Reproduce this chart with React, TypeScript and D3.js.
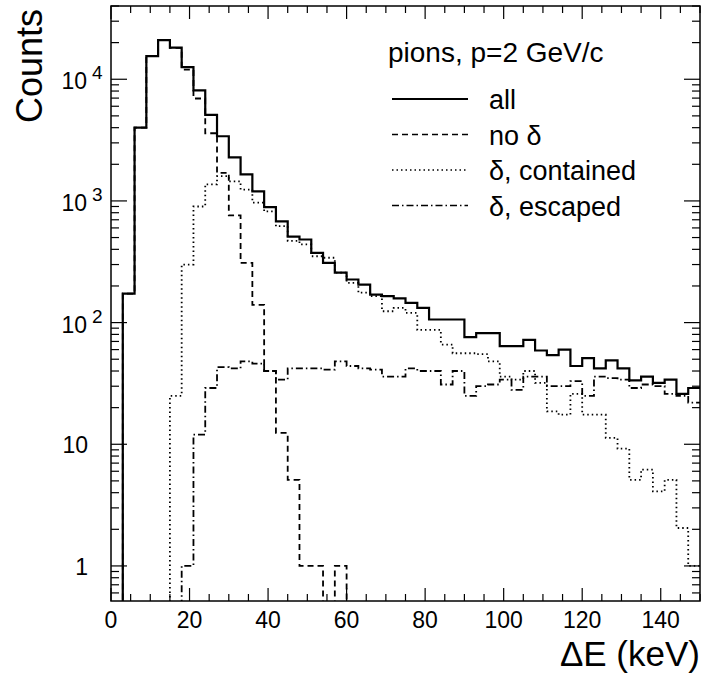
import React from 'react';
import * as d3 from 'd3';

// 3 keV bins from 0 to 150 keV
const binWidth = 3;
const allCounts = [0, 173, 4000, 15500, 21000, 18200, 12600, 8100, 5100, 3400, 2280, 1650, 1200, 890, 680,
  508, 482, 374, 310, 257, 226, 205, 170, 165, 158, 145, 132, 106, 106, 106, 76, 82, 82, 64, 64, 72, 59, 54, 60,
  44, 51, 42, 49, 42, 33.5, 36, 32, 34, 26, 29];
const noDeltaCounts = [0, 173, 4000, 15500, 21000, 18100, 12000, 6950, 3600, 1700, 760, 310, 140, 40, 12.4,
  5.1, 1, 1, 0, 1, 0, 0, 0, 0, 0, 0, 0, 0, 0, 0, 0, 0, 0, 0, 0, 0, 0, 0, 0, 0, 0, 0, 0, 0, 0, 0, 0, 0, 0, 0];
const containedCounts = [0, 0, 0, 0, 0, 25, 300, 900, 1370, 1600, 1450, 1240, 970, 820, 620,
  470, 439, 351, 341, 257, 212, 176, 165, 124, 132, 120, 87, 87, 66, 56, 56, 55, 48, 36, 34, 40, 32, 18.6, 17.5,
  26, 17.5, 17.5, 11.3, 9.2, 5.1, 6.2, 4.1, 5.1, 2.05, 1.0];
const escapedCounts = [0, 0, 0, 0, 0, 0, 1.0, 12, 29, 43, 42, 48, 46, 40, 34,
  42, 42, 42, 41, 48, 44, 42, 41, 36, 36, 42, 40, 40, 31, 40, 25, 30, 31, 34, 28, 36, 36, 30, 30, 33, 25, 36, 35,
  34, 29, 31, 30, 26, 25, 22];

const xTicks = [0, 20, 40, 60, 80, 100, 120, 140];
const legendLabels = ['all', 'no δ', 'δ, contained', 'δ, escaped'];
const dashes = [null, '6,4', '1.5,3', '7,3,1.5,3'];

const W = 705, H = 677;
const left = 111, right = 700, top = 6, bottom = 601;
const font = "'Liberation Sans', Arial, sans-serif";

const App: React.FC = () => {
  const x = d3.scaleLinear().domain([0, 150]).range([left, right]);
  const y = d3.scaleLog().domain([0.515, 40000]).range([bottom, top]);
  const yMin = 0.515;

  const stepPath = (vals: number[]) => {
    const pts: [number, number][] = [];
    vals.forEach((v, i) => {
      const vv = Math.max(v, yMin * 0.5);
      pts.push([x(i * binWidth), y(vv)]);
      pts.push([x((i + 1) * binWidth), y(vv)]);
    });
    return d3.line()(pts) as string;
  };

  const series = [allCounts, noDeltaCounts, containedCounts, escapedCounts];

  const xMinor = d3.range(0, 151, 5);
  const yMinor: number[] = [];
  for (let e = -1; e <= 4; e++) {
    for (let m = 1; m <= 9; m++) {
      const v = m * Math.pow(10, e);
      if (v >= yMin && v <= 40000) yMinor.push(v);
    }
  }
  const yMajor = [1, 10, 100, 1000, 10000];

  return (
    <svg width={W} height={H} style={{ position: 'absolute', left: 0, top: 0 }}>
      <defs>
        <clipPath id="plot">
          <rect x={left} y={top} width={right - left} height={bottom - top} />
        </clipPath>
      </defs>
      <rect width={W} height={H} fill="white" />
      <g clipPath="url(#plot)">
        {series.map((s, i) => (
          <path key={i} d={stepPath(s)} fill="none" stroke="black" strokeWidth={i === 0 ? 2.2 : 1.8}
            strokeDasharray={dashes[i] ?? undefined} />
        ))}
      </g>
      <rect x={left} y={top} width={right - left} height={bottom - top} fill="none" stroke="black" strokeWidth={1.5} />
      {xMinor.map(t => {
        const major = t % 20 === 0;
        const len = major ? 13 : 7;
        return (
          <g key={'x' + t} stroke="black" strokeWidth={1.2}>
            <line x1={x(t)} x2={x(t)} y1={bottom} y2={bottom - len} />
            <line x1={x(t)} x2={x(t)} y1={top} y2={top + len} />
          </g>
        );
      })}
      {yMinor.map(v => {
        const major = yMajor.includes(v);
        const len = major ? 16 : 8;
        return (
          <g key={'y' + v} stroke="black" strokeWidth={1.2}>
            <line x1={left} x2={left + len} y1={y(v)} y2={y(v)} />
            <line x1={right} x2={right - len} y1={y(v)} y2={y(v)} />
          </g>
        );
      })}
      {xTicks.map(t => (
        <text key={'xl' + t} x={x(t)} y={628} textAnchor="middle" fontFamily={font} fontSize={23}>{t}</text>
      ))}
      {yMajor.map(v => {
        const exp = Math.round(Math.log10(v));
        if (exp < 2) return <text key={'yl' + v} x={88} y={y(v) + 9} textAnchor="end" fontFamily={font} fontSize={23}>{exp === 0 ? '1' : '10'}</text>;
        return (
          <g key={'yl' + v} fontFamily={font}>
            <text x={87} y={y(v) + 10} textAnchor="end" fontSize={23}>10</text>
            <text x={92} y={y(v)} fontSize={19}>{exp}</text>
          </g>
        );
      })}
      <text transform="translate(42,66) rotate(-90)" textAnchor="middle" fontFamily={font} fontSize={36}>Counts</text>
      <text x={700} y={666} textAnchor="end" fontFamily={font} fontSize={35}>ΔE (keV)</text>
      <text x={388} y={62} fontFamily={font} fontSize={28}>pions, p=2 GeV/c</text>
      {legendLabels.map((l, i) => {
        const ly = 99 + i * 35.5;
        return (
          <g key={l}>
            <line x1={392} x2={468} y1={ly} y2={ly} stroke="black" strokeWidth={i === 0 ? 2.2 : 1.6}
              strokeDasharray={dashes[i] ?? undefined} />
            <text x={489} y={ly + 10} fontFamily={font} fontSize={27}>{l}</text>
          </g>
        );
      })}
    </svg>
  );
};

export default App;
